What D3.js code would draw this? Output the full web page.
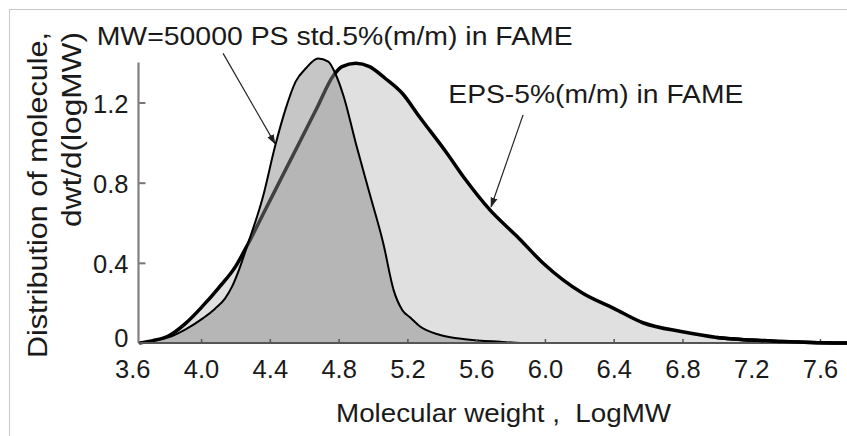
<!DOCTYPE html>
<html>
<head>
<meta charset="utf-8">
<script src="https://cdn.jsdelivr.net/npm/d3@7/dist/d3.min.js"></script>
<style>
  html, body { margin: 0; padding: 0; background: #fff; }
  svg { display: block; }
  text { font-family: "Liberation Sans", Arial, Helvetica, sans-serif; fill: #1a1a1a; }
</style>
</head>
<body>
<svg id="chart" width="847" height="436"></svg>
<script>
// ---- data ----
const psX  = [3.64, 3.72, 3.81, 3.91, 4.01, 4.08, 4.14, 4.18, 4.22, 4.27, 4.36, 4.43, 4.49, 4.55, 4.61, 4.68, 4.74, 4.78, 4.83, 4.90, 4.98, 5.06, 5.12, 5.17, 5.22, 5.27, 5.39, 5.55, 5.74, 5.86, 7.76];
const psY  = [0, 0.010, 0.028, 0.068, 0.123, 0.17, 0.223, 0.281, 0.364, 0.489, 0.73, 0.98, 1.163, 1.304, 1.371, 1.42, 1.404, 1.346, 1.229, 0.997, 0.747, 0.497, 0.264, 0.165, 0.125, 0.085, 0.04, 0.018, 0.006, 0, 0];
const epsX = [3.64, 3.72, 3.81, 3.91, 4.01, 4.10, 4.20, 4.27, 4.37, 4.47, 4.57, 4.67, 4.77, 4.82, 4.90, 4.98, 5.07, 5.17, 5.27, 5.43, 5.54, 5.68, 5.84, 5.99, 6.22, 6.40, 6.57, 6.80, 7.00, 7.19, 7.38, 7.55, 7.76];
const epsY = [0, 0.012, 0.035, 0.098, 0.185, 0.273, 0.381, 0.489, 0.659, 0.828, 0.997, 1.166, 1.335, 1.379, 1.396, 1.379, 1.321, 1.246, 1.129, 0.947, 0.813, 0.664, 0.53, 0.398, 0.248, 0.173, 0.101, 0.056, 0.028, 0.015, 0.008, 0.003, 0];
const xTicks = [3.6, 4.0, 4.4, 4.8, 5.2, 5.6, 6.0, 6.4, 6.8, 7.2, 7.6];
const yTicks = [0, 0.4, 0.8, 1.2];
const xMin = 3.636, xMax = 7.76, yMax = 1.4;
const psLabel  = "MW=50000 PS std.5%(m/m) in FAME";
const epsLabel = "EPS-5%(m/m) in FAME";
const xTitle = "Molecular weight ,  LogMW";
const yTitle = ["Distribution of molecule,", "dwt/d(logMW)"];
// annotations in data units: [x, y]
const psLabelPos  = [3.393, 1.487];
const epsLabelPos = [5.438, 1.196];
const psArrow  = [[4.128, 1.445], [4.430, 0.995]];
const epsArrow = [[5.873, 1.138], [5.687, 0.680]];

// ---- scales ----
const x = d3.scaleLinear().domain([3.6, 7.6]).range([132.3, 820]);
const y = d3.scaleLinear().domain([0, 1.2]).range([343, 102.5]);

const svg = d3.select("#chart");

// frame
svg.append("rect").attr("x", 9.5).attr("y", 9.5).attr("width", 900).attr("height", 500)
  .attr("fill", "none").attr("stroke", "#c8c8c8").attr("stroke-width", 1);

const ps  = psX.map((v, i) => [v, psY[i]]);
const eps = epsX.map((v, i) => [v, epsY[i]]);

const area = d3.area().x(d => x(d[0])).y0(y(0)).y1(d => y(d[1])).curve(d3.curveMonotoneX);
const line = d3.line().x(d => x(d[0])).y(d => y(d[1])).curve(d3.curveMonotoneX);

// EPS
svg.append("path").datum(eps).attr("d", area).attr("fill", "#e0e0e0");
svg.append("path").datum(eps).attr("d", line).attr("fill", "none")
  .attr("stroke", "#000").attr("stroke-width", 3.5).attr("stroke-linejoin", "round");
// PS (semi transparent so EPS line shows through)
svg.append("path").datum(ps).attr("d", area).attr("fill", "rgba(135,135,135,0.48)");
svg.append("path").datum(ps).attr("d", line).attr("fill", "none")
  .attr("stroke", "#000").attr("stroke-width", 2).attr("stroke-linejoin", "round");

// axes
const xAxis = d3.axisBottom(x).tickValues(xTicks).tickSize(-4).tickPadding(17)
  .tickFormat(d3.format(".1f"));
const gx = svg.append("g").attr("transform", `translate(0,${y(0)})`).call(xAxis);
gx.select(".domain").remove();
gx.selectAll(".tick line").attr("stroke", "#555").attr("stroke-width", 1.5)
  .filter(d => d < xMin).remove();
gx.selectAll(".tick text").attr("font-size", 25.5).attr("fill", "#1a1a1a")
  .style("font-family", "'Liberation Sans', Arial, sans-serif");

const yAxis = d3.axisLeft(y).tickValues(yTicks).tickSize(-7).tickPadding(10)
  .tickFormat(d => d === 0 ? "0" : d3.format(".1f")(d));
const gy = svg.append("g").attr("transform", `translate(${x(xMin)},0)`).call(yAxis);
gy.select(".domain").remove();
gy.selectAll(".tick line").attr("stroke", "#777").attr("stroke-width", 2)
  .filter(d => d === 0).remove();
gy.selectAll(".tick text").attr("font-size", 25.5).attr("fill", "#1a1a1a")
  .attr("dy", d => d === 0 ? "0.12em" : "0.38em")
  .style("font-family", "'Liberation Sans', Arial, sans-serif");

// axis lines
svg.append("line").attr("x1", x(xMin)).attr("x2", x(xMin)).attr("y1", y(yMax)).attr("y2", y(0))
  .attr("stroke", "#808080").attr("stroke-width", 2.2);
svg.append("line").attr("x1", x(xMin)).attr("x2", x(xMax)).attr("y1", y(0)).attr("y2", y(0))
  .attr("stroke", "#555").attr("stroke-width", 2);
// redraw baseline stroke of EPS over axis
svg.append("path").datum(eps.filter(d => d[0] >= 7.0)).attr("d", line).attr("fill", "none")
  .attr("stroke", "#000").attr("stroke-width", 3.5);

// arrows
const defs = svg.append("defs");
defs.append("marker").attr("id", "ah").attr("viewBox", "0 0 10 10").attr("refX", 9).attr("refY", 5)
  .attr("markerWidth", 10).attr("markerHeight", 10).attr("markerUnits", "userSpaceOnUse")
  .attr("orient", "auto")
  .append("path").attr("d", "M0,1.5 L10,5 L0,8.5 Z").attr("fill", "#222");
[psArrow, epsArrow].forEach(a => {
  svg.append("line")
    .attr("x1", x(a[0][0])).attr("y1", y(a[0][1]))
    .attr("x2", x(a[1][0])).attr("y2", y(a[1][1]))
    .attr("stroke", "#222").attr("stroke-width", 1.2).attr("marker-end", "url(#ah)");
});

// labels
svg.append("text").attr("x", x(psLabelPos[0])).attr("y", y(psLabelPos[1]))
  .attr("font-size", 25.5).attr("textLength", 476).attr("lengthAdjust", "spacingAndGlyphs")
  .text(psLabel);
svg.append("text").attr("x", x(epsLabelPos[0])).attr("y", y(epsLabelPos[1]))
  .attr("font-size", 25.5).attr("textLength", 295).attr("lengthAdjust", "spacingAndGlyphs")
  .text(epsLabel);

// axis titles
svg.append("text").attr("x", 503.5).attr("y", 421.5).attr("text-anchor", "middle")
  .attr("font-size", 26).attr("textLength", 335).attr("lengthAdjust", "spacingAndGlyphs")
  .style("white-space", "pre").attr("xml:space", "preserve")
  .text(xTitle);
svg.append("text").attr("transform", "translate(46.5,32) rotate(-90)").attr("text-anchor", "end")
  .attr("font-size", 27).attr("textLength", 326).attr("lengthAdjust", "spacingAndGlyphs")
  .text(yTitle[0]);
svg.append("text").attr("transform", "translate(81,32) rotate(-90)").attr("text-anchor", "end")
  .attr("font-size", 27).attr("textLength", 195).attr("lengthAdjust", "spacingAndGlyphs")
  .text(yTitle[1]);
</script>
</body>
</html>
